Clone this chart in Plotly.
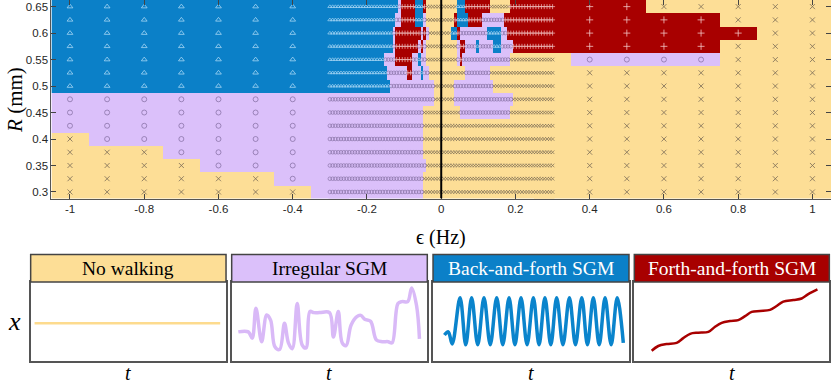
import plotly.graph_objects as go

# ---- phase diagram data -------------------------------------------------
# states: Y = no walking, P = irregular SGM, B = back-and-forth SGM, R = forth-and-forth SGM
R_VALUES = [0.65, 0.625, 0.6, 0.575, 0.55, 0.525, 0.5, 0.475, 0.45, 0.425, 0.4, 0.375, 0.35, 0.325, 0.3]

EPS_COARSE = [-1.0, -0.9, -0.8, -0.7, -0.6, -0.5, -0.4, -0.3, -0.2, -0.1, 0.0,
              0.1, 0.2, 0.3, 0.4, 0.5, 0.6, 0.7, 0.8, 0.9, 1.0]

# coarse scan (step 0.1), one string per R row, '.' = covered by the fine scan
COARSE_ROWS = [
    "BBBBBBBB.....RRRYYYYY",
    "BBBBBBBB.....RRRRRYYY",
    "BBBBBBBB.....RRRRRRYY",
    "BBBBBBBB.....RRRRRYYY",
    "BBBBBBBB.....YPPPPYYY",
    "BBBBBBBB.....YYYYYYYY",
    "BBBBBBBB.....YYYYYYYY",
    "PPPPPPPP.....YYYYYYYY",
    "PPPPPPPP.....YYYYYYYY",
    "PPPPPPPP.....YYYYYYYY",
    "YPPPPPPP.....YYYYYYYY",
    "YYYPPPPP.....YYYYYYYY",
    "YYYYPPPP.....YYYYYYYY",
    "YYYYYYPP.....YYYYYYYY",
    "YYYYYYYP.....YYYYYYYY",
]

# fine scan: eps from -0.3 to 0.3 (81 points), run-length per R row
FINE_START, FINE_STEP, FINE_N = -0.3, 0.0075, 81
FINE_ROWS = [
    "B25 P1 R5 B3 R1 Y11 B3 R9 Y7 R16",
    "B24 P2 R5 B3 P1 Y10 R1 B4 R5 P8 R18",
    "B23 P1 R9 P1 R1 P1 Y8 B2 R1 P10 B5 P2 R17",
    "B23 P1 R8 P1 R1 P1 Y11 P1 R2 P4 B1 P5 B3 P4 R15",
    "B20 P4 R6 P2 B1 P2 Y11 P1 R1 P17 Y16",
    "B21 P7 R2 P3 B1 P2 Y13 P9 Y23",
    "B22 P16 Y7 P14 Y22",
    "P38 Y7 P21 Y15",
    "P34 Y13 P18 Y16",
    "P34 Y47",
    "P34 Y47",
    "P34 Y47",
    "P35 Y46",
    "P34 Y47",
    "P34 Y47",
]

# ---- sketch panels (t in 0..1, x in -1..1) --------------------------------
NOWALK_T = [0.02, 0.97]
NOWALK_X = [-0.05, -0.05]

IRREG_T = [0.034, 0.085, 0.105, 0.124, 0.153, 0.179, 0.199, 0.221, 0.245, 0.27, 0.29, 0.31,
           0.335, 0.36, 0.38, 0.40, 0.42, 0.45, 0.50, 0.52, 0.545, 0.565, 0.585, 0.61,
           0.64, 0.66, 0.68, 0.71, 0.74, 0.77, 0.80, 0.82, 0.85, 0.87, 0.90, 0.92, 0.945, 0.96]
IRREG_X = [-0.27, -0.27, -0.43, 0.33, -0.52, 0.16, 0.03, -0.65, -0.72, -0.05, -0.55, -0.7,
           0.45, -0.6, -0.68, 0.25, 0.22, 0.22, 0.22, -0.4, 0.25, -0.55, -0.62, -0.1,
           0.12, 0.15, 0.05, 0.0, -0.48, -0.52, -0.52, -0.55, 0.45, 0.5, 0.5, 0.85, 0.4, -0.45]

BACK_T = [0.058, 0.078, 0.098, 0.138, 0.167, 0.197, 0.228, 0.260, 0.292, 0.325, 0.356, 0.388,
          0.418, 0.449, 0.480, 0.512, 0.541, 0.571, 0.601, 0.631, 0.663, 0.696, 0.727, 0.759,
          0.788, 0.818, 0.848, 0.878, 0.909, 0.940, 0.971]
BACK_X = [-0.35, -0.27, -0.58, 0.6, -0.6, 0.6, -0.6, 0.6, -0.6, 0.6, -0.6, 0.6,
          -0.6, 0.6, -0.6, 0.6, -0.6, 0.6, -0.6, 0.6, -0.6, 0.6, -0.6, 0.6,
          -0.6, 0.6, -0.6, 0.6, -0.6, 0.6, -0.55]

FORTH_T = [0.089, 0.123, 0.166, 0.217, 0.251, 0.286, 0.328, 0.38, 0.414, 0.448, 0.491, 0.533,
           0.568, 0.602, 0.645, 0.696, 0.73, 0.764, 0.815, 0.858, 0.892, 0.939]
FORTH_X = [-0.75, -0.63, -0.58, -0.55, -0.43, -0.32, -0.29, -0.27, -0.14, -0.04, 0.006, 0.03,
           0.13, 0.24, 0.26, 0.29, 0.39, 0.5, 0.54, 0.58, 0.69, 0.81]

PANEL_TITLES = ["No walking", "Irregular SGM", "Back-and-forth SGM", "Forth-and-forth SGM"]

# ---- styles ---------------------------------------------------------------
BG = {"Y": "#FDDE96", "P": "#DBC0FA", "B": "#0B80C8", "R": "#A80000"}
CODE = {"Y": 0, "P": 1, "B": 2, "R": 3}
MARK = {
    "Y": dict(symbol="x-thin-open", color="#7a6b55"),
    "P": dict(symbol="circle-open", color="#8a74a8"),
    "B": dict(symbol="triangle-up-open", color="#a6d6f4"),
    "R": dict(symbol="cross-thin-open", color="#f2c4c4"),
}
LINE_COL = ["#FDDB8E", "#D9B9F7", "#0A84CC", "#A80000"]
TITLE_TXT = ["black", "black", "white", "white"]
SERIF = "Liberation Serif"
SANS = "Liberation Sans"


def expand(runs):
    out = []
    for tok in runs.split():
        out += [tok[0]] * int(tok[1:])
    assert len(out) == FINE_N
    return out


fine_states = [expand(r) for r in FINE_ROWS]
fine_eps = [round(FINE_START + FINE_STEP * i, 5) for i in range(FINE_N)]

scale = [[0, BG["Y"]], [1 / 6, BG["Y"]], [1 / 6, BG["P"]], [0.5, BG["P"]],
         [0.5, BG["B"]], [5 / 6, BG["B"]], [5 / 6, BG["R"]], [1, BG["R"]]]

fig = go.Figure()

# coarse and fine colour fields (rows reversed so y ascends)
zc = [[CODE.get(c) for c in row] for row in COARSE_ROWS[::-1]]
fig.add_trace(go.Heatmap(z=zc, x=EPS_COARSE, y=R_VALUES[::-1], colorscale=scale,
                         zmin=0, zmax=3, showscale=False, hoverinfo="skip"))
zf = [[CODE[c] for c in row] for row in fine_states[::-1]]
fig.add_trace(go.Heatmap(z=zf, x=fine_eps, y=R_VALUES[::-1], colorscale=scale,
                         zmin=0, zmax=3, showscale=False, hoverinfo="skip"))

# markers
for st in "YPBR":
    cx, cy, fx, fy = [], [], [], []
    for j, r in enumerate(R_VALUES):
        for k, e in enumerate(EPS_COARSE):
            if abs(e) >= 0.35 and COARSE_ROWS[j][k] == st:
                cx.append(e)
                cy.append(r)
        for k, e in enumerate(fine_eps):
            if fine_states[j][k] == st:
                fx.append(e)
                fy.append(r)
    m = MARK[st]
    fig.add_trace(go.Scatter(x=cx, y=cy, mode="markers", hoverinfo="skip",
                             marker=dict(symbol=m["symbol"], size=5, color=m["color"],
                                         line=dict(width=0.8, color=m["color"]))))
    fig.add_trace(go.Scatter(x=fx, y=fy, mode="markers", hoverinfo="skip",
                             marker=dict(symbol=m["symbol"], size=3.6, color=m["color"],
                                         line=dict(width=0.7, color=m["color"]))))

# sketch panels
panel_x = [(0.0369, 0.2720), (0.2788, 0.5142), (0.5211, 0.7569), (0.7633, 0.9980)]
plot_y = (0.0587, 0.2637)
title_y = (0.2637, 0.3355)
series = [(NOWALK_T, NOWALK_X, 2.5), (IRREG_T, IRREG_X, 3.5),
          (BACK_T, BACK_X, 3.5), (FORTH_T, FORTH_X, 2.5)]

shapes = [dict(type="line", xref="x", yref="y", x0=0, x1=0, y0=0.2875, y1=0.6625,
               line=dict(color="black", width=2))]
annotations = []
for i, ((t, xv, w), (x0, x1)) in enumerate(zip(series, panel_x)):
    n = i + 2
    fig.add_trace(go.Scatter(x=t, y=xv, mode="lines", xaxis=f"x{n}", yaxis=f"y{n}",
                             hoverinfo="skip",
                             line=dict(color=LINE_COL[i], width=w, shape="spline", smoothing=1.0)))
    ax = dict(domain=[x0, x1], range=[0, 1], showticklabels=False, ticks="",
              showgrid=False, zeroline=False, showline=True, mirror=True, automargin=False,
              linecolor="#555555", linewidth=1.5, fixedrange=True)
    ay = dict(domain=list(plot_y), range=[-1, 1], showticklabels=False, ticks="",
              showgrid=False, zeroline=False, showline=True, mirror=True, automargin=False,
              linecolor="#555555", linewidth=1.5, fixedrange=True)
    fig.layout[f"xaxis{n}"] = dict(ax, anchor=f"y{n}")
    fig.layout[f"yaxis{n}"] = dict(ay, anchor=f"x{n}")
    shapes.append(dict(type="rect", xref="paper", yref="paper", x0=x0, x1=x1,
                       y0=title_y[0], y1=title_y[1], fillcolor=BG["YPBR"[i]],
                       line=dict(color="#444444", width=1.5)))
    annotations.append(dict(text=PANEL_TITLES[i], xref="paper", yref="paper",
                            x=(x0 + x1) / 2, y=sum(title_y) / 2,
                            font=dict(family=SERIF, size=19.5, color=TITLE_TXT[i])))
    annotations.append(dict(text="<i>t</i>", xref="paper", yref="paper",
                            x=(x0 + x1) / 2, y=0.025,
                            font=dict(family=SERIF, size=20, color="black")))

annotations += [
    dict(text="<i>x</i>", xref="paper", yref="paper", x=0.018, y=0.16,
         font=dict(family=SERIF, size=26, color="black")),
    dict(text="ϵ (Hz)", xref="paper", yref="paper", x=0.531, y=0.381,
         font=dict(family=SERIF, size=20, color="black")),
    dict(text="<i>R</i> (mm)", xref="paper", yref="paper", x=0.018, y=0.739,
         textangle=-90, font=dict(family=SERIF, size=21, color="black")),
]
for a in annotations:
    a.update(showarrow=False, xanchor="center", yanchor="middle")

fig.update_layout(
    width=831, height=383, margin=dict(l=0, r=0, t=0, b=0, autoexpand=False),
    paper_bgcolor="white", plot_bgcolor="white", showlegend=False,
    xaxis=dict(domain=[0.0619, 1.0], range=[-1.05, 1.05], tickvals=[-1, -0.8, -0.6, -0.4, -0.2, 0, 0.2, 0.4, 0.6, 0.8, 1],
               ticktext=["-1", "-0.8", "-0.6", "-0.4", "-0.2", "0", "0.2", "0.4", "0.6", "0.8", "1"],
               ticks="inside", ticklen=5, tickcolor="#444444", showline=True, mirror="ticks",
               linecolor="#555555", linewidth=1, showgrid=False, zeroline=False, automargin=False,
               tickfont=dict(family=SANS, size=11.5, color="#262626"), anchor="y"),
    yaxis=dict(domain=[0.4815, 1.0], range=[0.2875, 0.6625],
               tickvals=[0.3, 0.35, 0.4, 0.45, 0.5, 0.55, 0.6, 0.65],
               ticktext=["0.3", "0.35", "0.4", "0.45", "0.5", "0.55", "0.6", "0.65"],
               ticks="inside", ticklen=5, tickcolor="#444444", showline=True, mirror="ticks",
               linecolor="#555555", linewidth=1, showgrid=False, zeroline=False, automargin=False,
               tickfont=dict(family=SANS, size=11.5, color="#262626"), anchor="x"),
    shapes=shapes, annotations=annotations,
)

fig.write_html("out.html", config={"displayModeBar": False},
               post_script="document.body.style.margin='0';")
